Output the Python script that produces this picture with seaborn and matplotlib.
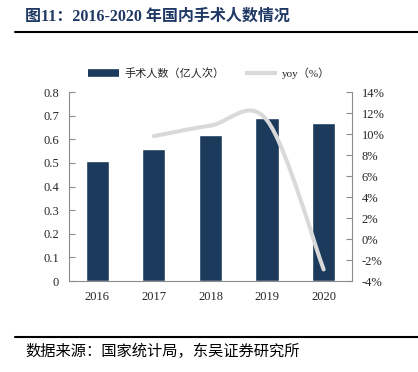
import numpy as np
import pandas as pd
import matplotlib
matplotlib.use("Agg")
import matplotlib.pyplot as plt
from matplotlib.path import Path
from matplotlib.patches import PathPatch
from matplotlib.lines import Line2D
import seaborn as sns

# ---- data ----
years = ["2016", "2017", "2018", "2019", "2020"]
surgeries = [0.51, 0.56, 0.62, 0.69, 0.67]          # 亿人次
yoy_years = ["2017", "2018", "2019", "2020"]
yoy = [9.8, 10.8, 11.3, -2.9]                        # %
left_ticks = [0, 0.1, 0.2, 0.3, 0.4, 0.5, 0.6, 0.7, 0.8]
right_ticks = [-4, -2, 0, 2, 4, 6, 8, 10, 12, 14]

title = "图11：2016-2020 年国内手术人数情况"
source = "数据来源：国家统计局，东吴证券研究所"
bar_label = "手术人数（亿人次）"
line_label = "yoy（%）"

sns.set_style("white")
plt.rcParams["font.family"] = ["Liberation Serif", "Noto Sans CJK SC"]
mixed = ["Liberation Serif", "Noto Sans CJK SC"]
cjk = ["Noto Sans CJK SC", "DejaVu Sans"]

BAR = "#1b3a5c"
LINE = "#d9d9d9"
SPINE = "#8c8c8c"
NAVY = "#1f3864"

fig = plt.figure(figsize=(4.18, 3.72), dpi=100)
ax = fig.add_axes([0.165, 0.2446, 0.677, 0.508])

df = pd.DataFrame({"year": years, "value": surgeries})
sns.barplot(data=df, x="year", y="value", order=years, color=BAR,
            width=0.41, saturation=1, ax=ax)
ax.set_xlim(-0.5, len(years) - 0.5)
ax.set_ylim(0, 0.8)
ax.set_yticks(left_ticks)
ax.set_yticklabels([("%g" % t) for t in left_ticks])
ax.set_xlabel("")
ax.set_ylabel("")

# between-category tick marks
ax.set_xticks(np.arange(-0.5, len(years)), minor=True)
ax.tick_params(axis="x", which="major", length=0, pad=7, labelsize=9)
ax.tick_params(axis="x", which="minor", direction="in", length=4,
               color=SPINE, width=0.8)
ax.tick_params(axis="y", direction="in", length=4, color=SPINE, width=0.8,
               pad=7, labelsize=9)

ax2 = ax.twinx()
ax2.set_ylim(-4, 14)
ax2.set_yticks(right_ticks)
ax2.set_yticklabels(["%d%%" % t for t in right_ticks])
ax2.tick_params(axis="y", direction="in", length=4, color=SPINE, width=0.8,
                pad=7, labelsize=9)

for a in (ax, ax2):
    a.spines["top"].set_visible(False)
    for s in ("left", "right", "bottom"):
        a.spines[s].set_color(SPINE)
        a.spines[s].set_linewidth(0.8)
ax.spines["right"].set_visible(False)
ax2.spines["left"].set_visible(False)
ax2.spines["bottom"].set_visible(False)

# smoothed yoy line (Catmull-Rom bezier through the data points)
xs = [years.index(y) for y in yoy_years]
pts = np.column_stack([xs, yoy]).astype(float)
n = len(pts)
verts = [tuple(pts[0])]
codes = [Path.MOVETO]
for i in range(n - 1):
    p0 = pts[max(i - 1, 0)]
    p1 = pts[i]
    p2 = pts[i + 1]
    p3 = pts[min(i + 2, n - 1)]
    c1 = p1 + (p2 - p0) / 6.0
    c2 = p2 - (p3 - p1) / 6.0
    verts += [tuple(c1), tuple(c2), tuple(p2)]
    codes += [Path.CURVE4] * 3
patch = PathPatch(Path(verts, codes), facecolor="none", edgecolor=LINE,
                  lw=2.9, capstyle="round", joinstyle="round", zorder=5)
ax2.add_patch(patch)

# legend
handles = [Line2D([], [], color=BAR, lw=5.5, solid_capstyle="butt"),
           Line2D([], [], color=LINE, lw=3, solid_capstyle="butt")]
fig.legend(handles, [bar_label, line_label], loc="center",
           bbox_to_anchor=(0.50, 0.804), ncol=2, frameon=False,
           prop={"family": mixed, "size": 8}, handlelength=2.8,
           handletextpad=0.45, columnspacing=1.9, borderaxespad=0)

# title, rules, source
fig.text(25 / 418, 1 - 16.5 / 372, title, ha="left", va="center",
         fontsize=11.5, fontweight="bold", color=NAVY, family=mixed)
fig.add_artist(Line2D([15 / 418, 1.0], [1 - 32.3 / 372] * 2, color="black",
                      lw=1.5, transform=fig.transFigure))
fig.add_artist(Line2D([15 / 418, 1.0], [1 - 336.7 / 372] * 2, color="black",
                      lw=1.5, transform=fig.transFigure))
fig.text(25 / 418, 1 - 351 / 372, source, ha="left", va="center",
         fontsize=11, color="black", family=cjk)

fig.savefig("out.png", dpi=100)
